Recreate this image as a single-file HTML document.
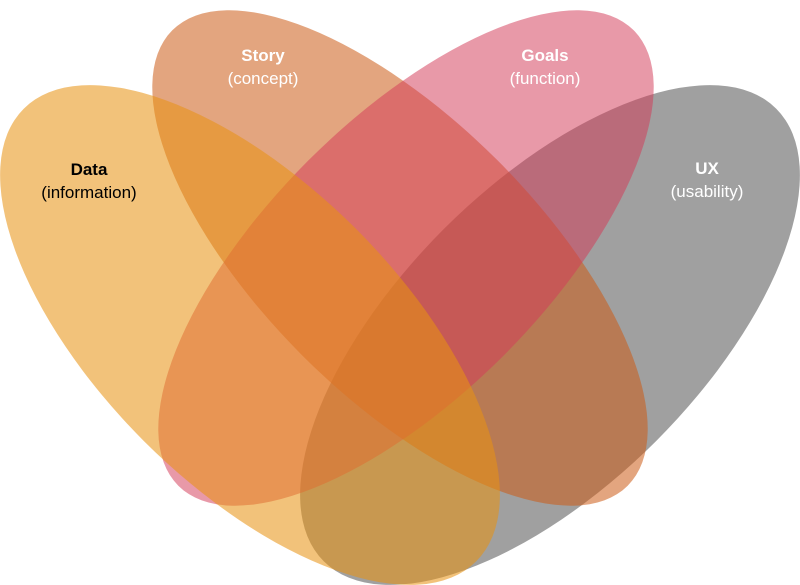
<!DOCTYPE html>
<html><head><meta charset="utf-8"><style>html,body{margin:0;padding:0;background:#fff;overflow:hidden;width:800px;height:585px}svg{display:block}</style></head>
<body>
<svg width="800" height="585" viewBox="0 0 800 585" xmlns="http://www.w3.org/2000/svg">
<g>
<ellipse cx="550" cy="335" rx="320" ry="150" transform="rotate(-45 550 335)" fill="#555555" fill-opacity="0.56"/>
<ellipse cx="400" cy="258" rx="322" ry="138" transform="rotate(45 400 258)" fill="#CC5B16" fill-opacity="0.55"/>
<ellipse cx="406" cy="258" rx="322" ry="138" transform="rotate(-45 406 258)" fill="#D33B58" fill-opacity="0.52"/>
<ellipse cx="250" cy="335" rx="320" ry="150" transform="rotate(45 250 335)" fill="#E89212" fill-opacity="0.56"/>
</g>
<g font-family="Liberation Sans, sans-serif" font-size="17" text-anchor="middle">
<text x="89" y="175" font-weight="bold" fill="#000">Data</text>
<text x="89" y="198" fill="#000">(information)</text>
<text x="263" y="61" font-weight="bold" fill="#fff">Story</text>
<text x="263" y="84" fill="#fff">(concept)</text>
<text x="545" y="61" font-weight="bold" fill="#fff">Goals</text>
<text x="545" y="84" fill="#fff">(function)</text>
<text x="707" y="174" font-weight="bold" fill="#fff">UX</text>
<text x="707" y="197" fill="#fff">(usability)</text>
</g>
</svg>
</body></html>
